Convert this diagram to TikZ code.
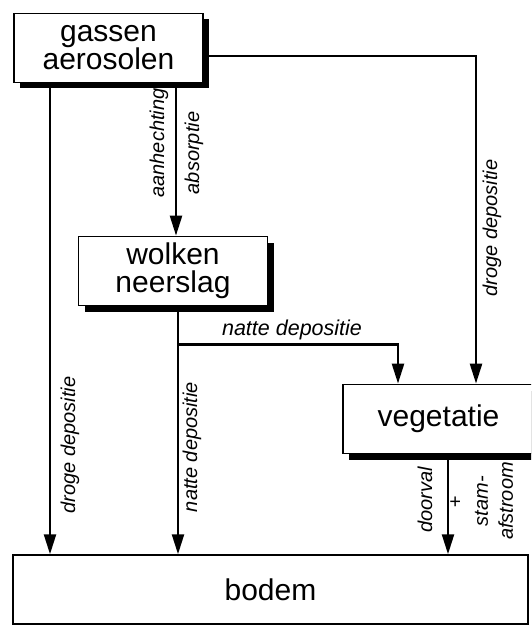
\documentclass[tikz,border=0pt]{standalone}
\usepackage{fontspec}
\setmainfont{Liberation Sans}
\usepackage{tikz}
\usetikzlibrary{arrows.meta,shadows}
\tikzset{
  poolbox/.style ={rectangle, draw=black, line width=1.8pt, fill=white,
                   minimum width=189pt, minimum height=69pt, align=center,
                   inner sep=2pt, font=\fontsize{30}{28}\selectfont},
  poolsh/.style  ={poolbox, general shadow={fill=black, shadow xshift=6pt,
                   shadow yshift=-6pt}},
  flow/.style    ={-{Triangle[length=20pt,width=12pt]}, line width=2.4pt},
  flux/.style    ={font=\itshape\fontsize{20}{25}\selectfont, inner sep=0pt,
                   align=center}
}

\begin{document}
\begin{tikzpicture}[x=1pt, y=-1pt]
  \useasboundingbox (0,0) rectangle (531,628);
  \clip (0,0) rectangle (531,628);
  % ---------------- compartments ----------------
  \node[poolsh]  (gassen) at (108.5,48)   {gassen\\aerosolen};
  \node[poolsh]  (wolken) at (173,271)    {wolken\\neerslag};
  \node[poolsh, minimum width=191pt]
                 (veg)    at (438.5,419)  {vegetatie};
  \node[poolbox, minimum width=515pt, line width=1.5pt]
                 (bodem)  at (270.5,589.5){bodem};

  % ---------------- fluxes ----------------
  \coordinate (gl)     at ([xshift=-58.5pt]gassen.south);
  \coordinate (gw)     at ([xshift=67.5pt]gassen.south);
  \coordinate (wsplit) at ([xshift=5pt,yshift=-38pt]wolken.south);
  \coordinate (vb)     at ([xshift=9.5pt]veg.south);
  \draw[flow] (gl) -- (gl |- bodem.north);
  \draw[flow] (gw) -- (gw |- wolken.north);
  \draw[flow] ([xshift=5pt]wolken.south) -- (wsplit |- bodem.north);
  \draw[flow] (wsplit) -| ([xshift=-40.5pt]veg.north);
  \draw[flow] ([yshift=-8pt]gassen.east) -| ([xshift=37.5pt]veg.north);
  \draw[flow] (vb) -- (vb |- bodem.north);

  % ---------------- labels ----------------
  \node[flux, rotate=90] (ldrl)  at (70,445)  {droge depositie};
  \node[flux, rotate=90] (laan)  at (159,143) {aanhechting};
  \node[flux, rotate=90] (labs)  at (194,153) {absorptie};
  \node[flux, rotate=90] (lnav)  at (192,447) {natte depositie};
  \node[flux, font=\itshape\fontsize{21.5}{25}\selectfont]
                         (lnah)  at (292,330) {natte depositie};
  \node[flux, rotate=90] (ldrr)  at (492,228) {droge depositie};
  \node[flux, rotate=90] (ldoor) at (425,500) {doorval};
  \node[flux]            (lplus) at (455,503) {+};
  \node[flux, rotate=90] (lstam) at (494,501) {stam-\\afstroom};
\end{tikzpicture}
\end{document}
